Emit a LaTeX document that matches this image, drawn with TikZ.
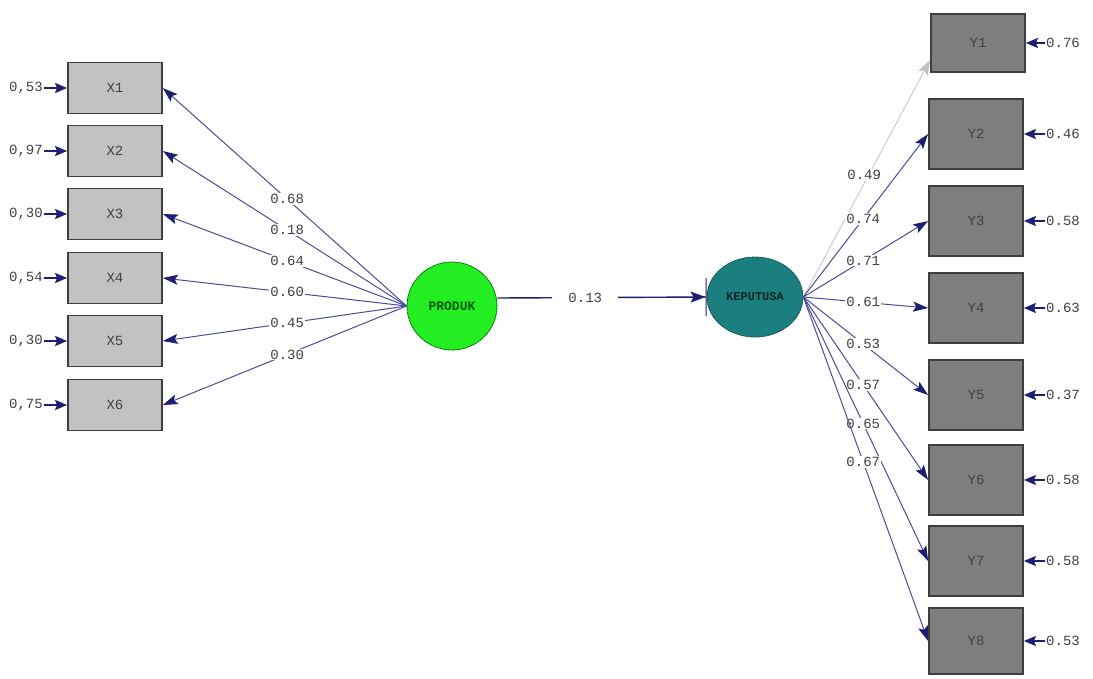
\documentclass[tikz,border=0pt]{standalone}
\usepackage{fontspec}
\setmonofont{Liberation Mono}
\usetikzlibrary{arrows.meta,shapes.geometric,calc}
\definecolor{lnk}{HTML}{4B4B9C}
\definecolor{tipc}{HTML}{1E1E72}
\definecolor{boxl}{HTML}{C2C2C2}
\definecolor{boxd}{HTML}{7E7E7E}
\definecolor{boxe}{HTML}{3E3E3E}
\definecolor{prod}{HTML}{22EE22}
\definecolor{kep}{HTML}{1C7F7F}
\begin{document}
\begin{tikzpicture}[x=1pt,y=-1pt,
  txt/.style={font=\ttfamily\fontsize{14}{16}\selectfont, text=black!75},
  xbox/.style={draw=boxe, line width=1.8pt, fill=boxl, minimum width=94pt, minimum height=51pt, txt},
  ybox/.style={draw=boxe, line width=1.8pt, fill=boxd, minimum width=94pt, minimum height=70pt, txt},
  lat/.style={ellipse, draw=black!60!green, line width=0.8pt, dashed, dash pattern=on 2pt off 0.6pt},
  load/.style={draw=lnk, line width=1pt, -{Stealth[length=15pt,width=10pt,inset=3pt,color=tipc]}},
  errarr/.style={draw=tipc, line width=2pt, -{Stealth[length=12pt,width=10pt,inset=2pt]}},
  lab/.style={txt, fill=white, inner sep=1pt},
  errlab/.style={txt, inner sep=1pt}
]
\useasboundingbox (0,0) rectangle (1093,678);

% latent variables
\node[lat, fill=prod, minimum width=90pt, minimum height=88pt, font=\ttfamily\bfseries\fontsize{13}{15}\selectfont, text=green!35!black] (P) at (452,306) {PRODUK};
\node[lat, fill=kep, draw=kep!60!black, minimum width=96pt, minimum height=80pt, font=\ttfamily\bfseries\fontsize{12}{14}\selectfont, text=kep!30!black] (K) at (755,297) {KEPUTUSA};

% X boxes
\foreach \i/\y/\e in {1/88/{0,53},2/151/{0,97},3/214/{0,30},4/278/{0,54},5/341/{0,30},6/405/{0,75}}{
  \node[xbox] (X\i) at (115,\y) {X\i};
  \node[errlab, anchor=east] (eX\i) at (44,\y) {\e};
  \draw[errarr] (eX\i.east) -- (X\i.west);
}
% Y boxes
\node[ybox, minimum height=58pt] (Y1) at (978,43) {Y1};
\foreach \i/\y/\e in {2/134/{0.46},3/221/{0.58},4/308/{0.63},5/395/{0.37},6/480/{0.58},7/561/{0.58}}{
  \node[ybox] (Y\i) at (976,\y) {Y\i};
  \node[errlab, anchor=west] (eY\i) at (1045,\y) {\e};
  \draw[errarr] (eY\i.west) -- (Y\i.east);
}
\node[ybox, minimum height=66pt] (Y8) at (976,641) {Y8};
\node[errlab, anchor=west] (eY1) at (1045,43) {0.76};
\draw[errarr] (eY1.west) -- (Y1.east);
\node[errlab, anchor=west] (eY8) at (1045,641) {0.53};
\draw[errarr] (eY8.west) -- (Y8.east);

% X loadings
\coordinate (Pw) at (P.west);
\foreach \i/\v in {1/0.68,2/0.18,3/0.64,4/0.60,5/0.45,6/0.30}{
  \draw[load] (Pw) -- node[lab, pos=0.49] {\v} (X\i.east);
}

% Y loadings
\coordinate (Ke) at (K.east);
\draw[draw=black!20, line width=1pt, -{Stealth[length=15pt,width=10pt,inset=3pt,color=black!25]}] (Ke) -- node[lab, pos=0.48, yshift=8pt] {0.49} ([yshift=-17pt]Y1.west);
\foreach \i/\v in {2/0.74,3/0.71,4/0.61,5/0.53,6/0.57,7/0.65,8/0.67}{
  \draw[load] (Ke) -- node[lab, pos=0.48] {\v} (Y\i.west);
}

% structural path
\draw[draw=tipc, line width=1.4pt, -{Stealth[length=15pt,width=11pt,inset=3pt]Bar[width=38pt,line width=1pt]}] ([yshift=8pt]P.east) -- node[lab, pos=0.42, minimum width=66pt] {0.13} (K.west);
\end{tikzpicture}
\end{document}
